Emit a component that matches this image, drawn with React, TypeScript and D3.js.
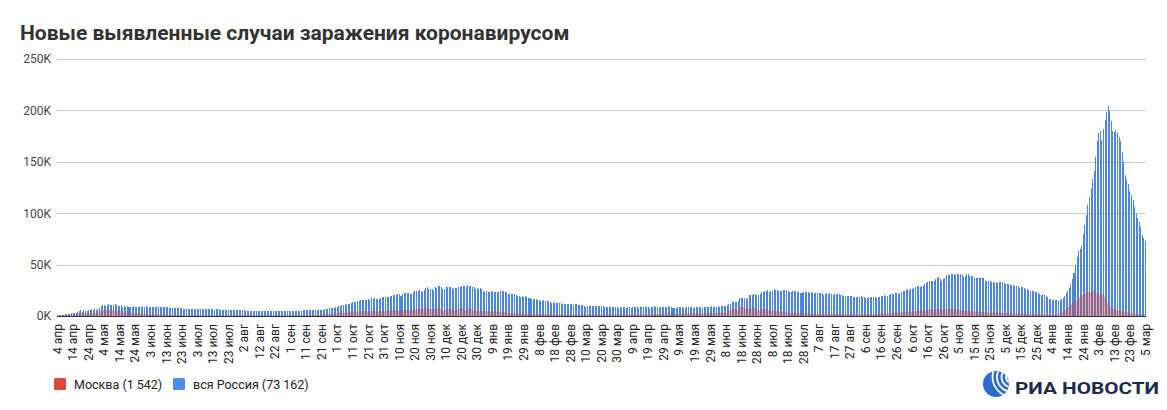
import * as d3 from "d3";
import { useEffect, useRef } from "react";

// подписи месяцев на оси X
const monthsRu = ["янв", "фев", "мар", "апр", "мая", "июн", "июл", "авг", "сен", "окт", "ноя", "дек"];

const firstDay = new Date(2020, 3, 4);
const lastDay = new Date(2022, 2, 5);

// вся Россия, тыс. новых случаев в день
const russia2020 = [
  // апр
  0.6, 0.7, 1.0, 1.2, 1.2, 1.5, 1.8, 1.7, 2.2, 2.6, 2.8, 3.4, 3.4, 4.1, 4.8, 6.1, 4.3, 5.6, 5.2, 4.8, 5.8, 6.0, 6.4, 6.2, 6.4, 5.8, 7.1,
  // май
  7.9, 9.6, 10.6, 10.6, 10.1, 10.6, 11.2, 10.7, 10.8, 11.0, 11.7, 10.9, 10.0, 10.0, 10.6, 9.2, 9.7, 8.9, 9.3, 8.8, 8.8, 8.9, 9.4, 8.6, 8.9, 8.9, 8.3, 8.4, 8.6, 9.0, 9.3,
  // июн
  9.0, 8.9, 8.5, 8.8, 8.7, 8.9, 9.0, 9.0, 8.6, 8.4, 8.8, 9.0, 8.7, 8.8, 8.2, 8.2, 7.8, 7.8, 8.0, 7.9, 7.7, 7.6, 7.4, 7.2, 7.1, 6.8, 6.9, 6.8, 6.7, 6.7,
  // июл
  6.6, 6.8, 6.7, 6.6, 6.7, 6.6, 6.4, 6.6, 6.5, 6.6, 6.6, 6.6, 6.5, 6.2, 6.4, 6.4, 6.4, 6.2, 6.1, 6.2, 5.8, 5.9, 5.8, 5.8, 5.9, 5.8, 5.6, 5.4, 5.5, 5.5, 5.5,
  // авг
  5.5, 5.4, 5.2, 5.2, 5.3, 5.2, 5.2, 5.2, 5.2, 5.1, 4.9, 5.1, 5.1, 5.1, 5.1, 5.0, 4.8, 4.7, 4.7, 4.8, 4.9, 4.9, 4.9, 4.7, 4.7, 4.7, 4.8, 4.8, 5.0, 4.9, 4.7,
  // сен
  4.7, 5.0, 5.0, 5.1, 5.2, 5.2, 5.2, 5.1, 5.4, 5.4, 5.4, 5.4, 5.5, 5.5, 5.5, 5.7, 5.8, 5.9, 6.1, 6.1, 6.2, 6.2, 6.4, 6.6, 7.2, 7.5, 7.9, 8.1, 8.2, 8.5,
  // окт
  8.9, 9.4, 9.9, 10.5, 10.9, 11.6, 11.1, 11.5, 12.1, 12.8, 13.6, 13.6, 13.9, 14.2, 14.2, 15.2, 15.1, 15.7, 15.7, 16.0, 16.3, 16.0, 17.3, 16.5, 17.3, 16.6, 16.6, 16.2, 17.7, 18.3, 18.1,
  // ноя
  18.7, 18.3, 18.6, 19.8, 19.4, 20.6, 20.5, 20.4, 21.8, 21.0, 19.9, 21.6, 22.0, 22.7, 22.6, 22.8, 21.8, 21.0, 23.6, 24.3, 24.8, 24.6, 25.2, 24.3, 23.7, 25.3, 27.5, 28.1, 26.7, 26.3,
  // дек
  26.4, 25.3, 28.1, 27.4, 28.8, 29.0, 28.1, 26.1, 26.2, 27.9, 28.6, 28.1, 28.1, 27.3, 26.7, 26.8, 27.0, 28.2, 28.6, 28.9, 29.4, 28.8, 28.2, 29.9, 29.3, 29.0, 28.3, 27.8, 26.5, 27.0, 26.5,
];

const russia2021 = [
  // янв
  27.7, 26.3, 24.2, 23.4, 24.2, 22.9, 23.5, 24.2, 23.3, 22.9, 23.3, 22.9, 23.7, 24.1, 24.7, 24.2, 23.3, 22.9, 21.7, 21.2, 21.1, 21.5, 21.3, 20.9, 19.3, 19.2, 18.2, 19.0, 18.7, 19.0, 18.4,
  // фев
  17.6, 17.6, 16.6, 16.7, 16.7, 16.6, 16.0, 15.9, 15.0, 14.9, 15.1, 15.0, 14.9, 14.2, 13.5, 12.9, 12.8, 13.2, 13.1, 13.0, 12.8, 12.7, 11.8, 11.4, 11.8, 11.5, 11.5, 11.5,
  // мар
  11.6, 10.6, 11.4, 11.8, 11.0, 11.0, 10.6, 11.0, 10.0, 9.1, 9.4, 10.1, 10.0, 9.9, 9.4, 9.3, 9.6, 9.7, 9.6, 9.3, 9.4, 8.5, 8.4, 8.8, 9.1, 9.1, 9.1, 9.1, 8.7, 8.3, 8.2,
  // апр
  8.9, 8.1, 9.0, 8.6, 8.2, 8.3, 8.3, 8.2, 9.1, 8.7, 8.8, 8.6, 8.2, 8.3, 8.3, 9.1, 8.8, 8.6, 8.7, 8.1, 8.3, 9.0, 9.3, 8.8, 8.7, 8.1, 8.3, 8.8, 9.0, 8.8,
  // май
  9.1, 9.3, 9.0, 8.5, 7.8, 7.9, 8.1, 8.3, 8.4, 8.6, 8.4, 8.0, 8.2, 8.8, 9.1, 8.9, 8.6, 7.8, 7.9, 8.4, 8.9, 8.8, 9.0, 8.2, 8.3, 8.4, 8.7, 8.8, 9.1, 9.3, 9.1,
  // июн
  9.0, 9.1, 9.3, 9.2, 9.3, 9.3, 9.3, 9.5, 10.4, 11.7, 12.0, 13.5, 14.7, 13.4, 13.7, 14.2, 17.3, 17.6, 17.9, 17.4, 16.7, 17.6, 20.2, 20.4, 20.5, 21.7, 21.7, 20.5, 20.6, 21.0,
  // июл
  23.5, 23.2, 24.4, 24.4, 25.1, 23.4, 24.0, 24.8, 25.8, 25.1, 25.0, 24.7, 23.9, 24.3, 25.1, 25.7, 25.0, 24.2, 23.8, 23.8, 24.5, 24.1, 24.1, 23.8, 23.3, 22.8, 22.4, 23.0, 23.6, 23.6, 23.3,
  // авг
  22.8, 23.6, 22.2, 22.6, 22.4, 22.8, 22.2, 22.2, 22.2, 20.8, 21.6, 21.9, 21.6, 21.9, 21.6, 20.5, 21.0, 21.1, 21.0, 21.0, 20.8, 20.5, 19.6, 19.5, 19.7, 19.5, 19.5, 19.3, 18.9, 18.3, 18.8,
  // сен
  18.9, 18.8, 19.0, 18.6, 18.3, 17.5, 17.9, 18.1, 18.2, 18.6, 18.9, 18.3, 17.8, 18.2, 18.9, 19.6, 19.9, 20.2, 19.7, 19.7, 20.3, 21.0, 21.4, 21.6, 22.4, 22.2, 21.7, 22.4, 23.5, 23.9,
  // окт
  24.5, 25.1, 25.8, 25.1, 25.8, 26.5, 27.6, 28.0, 29.4, 29.4, 28.2, 28.7, 28.7, 31.3, 32.2, 33.2, 34.3, 33.7, 33.7, 34.1, 36.3, 37.1, 37.7, 35.7, 34.3, 36.4, 36.6, 40.1, 39.8, 40.3, 41.0,
  // ноя
  40.4, 40.4, 40.2, 40.4, 40.7, 41.3, 39.4, 38.1, 39.2, 40.8, 40.8, 39.3, 38.8, 39.3, 37.0, 36.8, 37.1, 37.2, 37.4, 37.1, 37.0, 34.0, 33.6, 34.3, 33.9, 33.5, 32.9, 32.1, 32.6, 32.1,
  // дек
  32.6, 33.4, 32.9, 32.1, 31.2, 30.8, 30.8, 30.6, 30.5, 30.0, 29.6, 29.2, 28.7, 27.7, 28.0, 28.0, 27.5, 26.5, 26.3, 25.3, 24.6, 24.4, 24.1, 23.7, 23.1, 22.5, 21.5, 20.8, 20.6, 20.3, 19.5,
];

const russia2022 = [
  // янв
  18.0, 17.0, 16.2, 15.6, 15.3, 15.1, 15.2, 15.0, 15.3, 16.2, 17.8, 19.5, 22.0, 24.5, 27.0, 31.0, 35.6, 42.0, 50.0, 57.0, 63.0, 65.5, 68.0, 80.0, 89.0, 98.7, 108.0, 116.0, 125.0, 133.0, 141.0,
  // фев
  155.0, 170.0, 178.0, 180.0, 171.0, 182.0, 191.0, 198.0, 204.0, 199.0, 190.0, 180.0, 179.0, 181.0, 178.0, 174.0, 170.0, 160.0, 150.0, 137.6, 132.0, 128.0, 122.0, 118.0, 113.0, 106.0, 99.0, 95.5,
  // мар
  91.0, 87.0, 79.0, 76.0, 73.162,
];

// Москва, тыс. новых случаев в день
const moscow2020 = [
  // апр
  0.4, 0.4, 0.6, 0.7, 0.7, 0.9, 1.1, 1.0, 1.4, 1.3, 1.5, 1.8, 1.4, 2.0, 3.1, 3.6, 2.6, 3.1, 2.5, 2.0, 2.9, 3.0, 2.5, 2.9, 3.3, 2.2, 3.7,
  // май
  3.6, 5.4, 5.9, 5.8, 5.7, 5.9, 6.7, 5.8, 5.7, 5.4, 6.2, 5.4, 4.7, 4.7, 5.1, 3.5, 3.2, 3.5, 3.1, 2.9, 2.9, 3.0, 2.5, 2.3, 2.7, 2.8, 2.1, 2.1, 2.1, 2.3, 2.6,
  // июн
  2.3, 2.0, 1.8, 1.8, 1.6, 1.2, 2.0, 2.0, 1.6, 1.2, 1.6, 1.5, 1.4, 1.3, 1.0, 1.2, 1.1, 1.1, 1.0, 1.0, 0.9, 1.0, 0.9, 0.9, 0.8, 0.8, 0.7, 0.7, 0.7, 0.7,
  // июл
  0.6, 0.6, 0.7, 0.6, 0.6, 0.7, 0.7, 0.7, 0.6, 0.6, 0.6, 0.6, 0.6, 0.6, 0.6, 0.6, 0.6, 0.6, 0.6, 0.6, 0.6, 0.6, 0.6, 0.7, 0.7, 0.6, 0.7, 0.6, 0.6, 0.7, 0.7,
  // авг
  0.7, 0.7, 0.7, 0.7, 0.7, 0.7, 0.7, 0.7, 0.7, 0.7, 0.7, 0.7, 0.7, 0.7, 0.7, 0.7, 0.7, 0.7, 0.6, 0.6, 0.6, 0.7, 0.7, 0.7, 0.6, 0.6, 0.6, 0.7, 0.7, 0.7, 0.7,
  // сен
  0.7, 0.8, 0.8, 0.7, 0.7, 0.7, 0.7, 0.8, 0.8, 0.7, 0.8, 0.8, 0.8, 0.8, 0.9, 0.9, 1.0, 1.1, 1.0, 1.1, 1.1, 1.1, 1.6, 1.6, 1.8, 2.0, 2.2, 2.4, 2.4, 2.7,
  // окт
  2.9, 3.3, 4.1, 3.5, 3.2, 3.5, 3.2, 3.5, 4.1, 4.4, 4.8, 4.2, 3.9, 4.2, 4.6, 4.6, 5.0, 5.3, 4.5, 4.0, 4.5, 4.3, 5.1, 5.3, 4.8, 4.4, 4.2, 4.3, 5.2, 5.3, 5.0,
  // ноя
  5.1, 5.2, 5.2, 6.2, 5.3, 6.1, 5.8, 5.8, 5.2, 5.5, 4.8, 5.8, 5.8, 6.0, 6.0, 5.8, 5.8, 5.4, 6.4, 6.9, 6.9, 6.9, 7.2, 6.7, 6.2, 7.2, 7.9, 7.8, 7.0, 6.7,
  // дек
  6.5, 6.2, 7.9, 7.2, 8.0, 8.0, 6.7, 5.3, 5.5, 6.8, 6.8, 6.8, 6.7, 6.5, 5.6, 5.9, 6.4, 7.5, 7.8, 7.8, 7.7, 6.2, 5.6, 8.2, 7.6, 7.6, 6.4, 5.9, 5.2, 5.2, 5.2,
];

const moscow2021 = [
  // янв
  5.2, 4.8, 4.5, 4.8, 4.9, 3.8, 4.2, 4.5, 4.9, 4.8, 4.6, 3.8, 4.2, 4.2, 4.3, 4.1, 3.9, 3.6, 3.0, 2.9, 3.0, 3.1, 2.8, 2.6, 2.3, 2.3, 2.3, 2.4, 2.3, 2.1, 2.1,
  // фев
  2.0, 2.0, 2.0, 2.1, 2.0, 2.0, 1.9, 1.9, 1.8, 1.8, 1.8, 1.8, 1.7, 1.7, 1.6, 1.5, 1.5, 1.5, 1.5, 1.5, 1.4, 1.4, 1.3, 1.3, 1.3, 1.3, 1.3, 1.3,
  // мар
  1.3, 1.4, 1.4, 1.5, 1.4, 1.4, 1.3, 1.4, 1.3, 1.3, 1.4, 1.4, 1.5, 1.4, 1.3, 1.4, 1.5, 1.5, 1.5, 1.4, 1.4, 1.3, 1.3, 1.4, 1.5, 1.5, 1.5, 1.4, 1.3, 1.4, 1.4,
  // апр
  1.5, 1.3, 1.5, 1.4, 1.3, 1.3, 1.4, 1.4, 1.6, 1.5, 1.5, 1.4, 1.5, 1.6, 1.6, 1.8, 1.7, 1.6, 1.6, 1.5, 1.7, 2.0, 2.2, 2.0, 1.9, 1.8, 2.0, 2.2, 2.4, 2.3,
  // май
  2.5, 2.5, 2.5, 2.3, 2.1, 2.2, 2.3, 2.4, 2.3, 2.3, 2.2, 2.1, 2.3, 2.6, 2.9, 2.7, 2.5, 2.2, 2.3, 2.5, 2.8, 2.7, 2.8, 2.3, 2.4, 2.5, 2.7, 2.9, 3.0, 3.2, 3.0,
  // июн
  2.8, 2.9, 3.1, 3.0, 3.1, 3.1, 2.9, 3.2, 3.7, 4.7, 6.7, 6.7, 8.6, 6.3, 6.2, 5.8, 9.1, 9.1, 9.1, 8.6, 7.3, 6.8, 7.6, 7.9, 7.4, 8.5, 7.7, 6.9, 5.8, 5.9,
  // июл
  7.4, 6.7, 7.2, 6.7, 5.8, 5.2, 5.1, 5.6, 5.7, 5.7, 4.8, 4.3, 4.3, 4.2, 4.1, 4.4, 4.0, 3.2, 2.9, 2.8, 3.3, 3.0, 3.1, 2.9, 2.6, 2.4, 2.3, 2.6, 2.6, 2.6, 2.6,
  // авг
  2.5, 2.4, 2.4, 2.3, 2.3, 2.3, 2.3, 2.2, 2.1, 2.0, 2.1, 2.1, 2.1, 2.1, 2.0, 1.9, 1.9, 2.0, 2.0, 2.0, 1.9, 1.8, 1.8, 1.8, 1.8, 1.8, 1.8, 1.7, 1.7, 1.7, 1.8,
  // сен
  1.8, 1.8, 1.8, 1.7, 1.7, 1.6, 1.7, 1.8, 1.9, 2.0, 2.0, 1.9, 1.8, 1.9, 2.1, 2.3, 2.5, 2.6, 2.5, 2.5, 2.7, 2.9, 3.1, 3.2, 3.3, 3.2, 3.1, 3.3, 3.6, 3.8,
  // окт
  3.6, 3.8, 4.0, 3.9, 4.1, 4.3, 4.6, 4.7, 5.3, 5.4, 4.9, 5.0, 5.1, 5.6, 5.9, 6.2, 6.4, 6.3, 6.2, 6.3, 6.5, 6.8, 6.7, 6.4, 6.1, 6.6, 6.8, 7.0, 7.1, 7.0, 6.9,
  // ноя
  6.8, 6.6, 6.5, 6.4, 6.3, 6.2, 5.8, 5.4, 5.3, 5.3, 5.2, 5.0, 4.8, 4.6, 4.3, 4.3, 4.2, 4.1, 4.0, 3.9, 3.8, 3.5, 3.4, 3.5, 3.4, 3.3, 3.2, 3.1, 3.1, 3.0,
  // дек
  3.0, 3.1, 3.0, 2.9, 2.8, 2.8, 2.7, 2.7, 2.7, 2.6, 2.6, 2.5, 2.4, 2.4, 2.4, 2.4, 2.4, 2.3, 2.2, 2.2, 2.1, 2.1, 2.0, 2.0, 2.0, 1.9, 1.9, 1.8, 1.8, 1.8, 1.7,
];

const moscow2022 = [
  // янв
  1.7, 1.6, 1.5, 1.5, 1.5, 1.6, 1.8, 2.2, 2.8, 3.6, 4.5, 5.6, 7.0, 8.4, 9.8, 11.0, 12.3, 13.2, 14.0, 16.0, 17.5, 19.0, 20.0, 21.5, 22.0, 22.5, 23.5, 22.8, 23.0, 24.0, 24.7,
  // фев
  23.5, 21.5, 20.5, 21.5, 22.0, 21.0, 18.0, 14.5, 12.0, 10.0, 8.5, 7.5, 6.5, 6.0, 5.5, 5.2, 4.8, 4.5, 4.2, 4.0, 3.7, 3.4, 3.1, 2.9, 2.7, 2.5, 2.3, 2.1,
  // мар
  2.0, 1.9, 1.8, 1.7, 1.542,
];

const yTicks = [0, 50, 100, 150, 200, 250];

const legendItems = [
  { label: "Москва (1 542)", color: "#e0473b" },
  { label: "вся Россия (73 162)", color: "#4a8af0" },
];

const russia = [...russia2020, ...russia2021, ...russia2022];
const moscow = [...moscow2020, ...moscow2021, ...moscow2022];
const days = d3.timeDay.range(firstDay, d3.timeDay.offset(lastDay, 1));

const App = () => {
  const ref = useRef<SVGSVGElement>(null);

  useEffect(() => {
    const svg = d3.select(ref.current);
    svg.selectAll("*").remove();

    const width = 1167,
      height = 410;
    const margin = { top: 59, right: 21, bottom: 94, left: 57 };
    const n = Math.min(days.length, russia.length);

    const x = d3
      .scaleBand<number>()
      .domain(d3.range(n))
      .range([margin.left, width - margin.right])
      .paddingInner(0.35)
      .paddingOuter(0);

    const y = d3
      .scaleLinear()
      .domain([0, 250])
      .range([height - margin.bottom, margin.top]);

    // заголовок
    svg
      .append("text")
      .attr("x", 20)
      .attr("y", 40)
      .attr("font-size", 21)
      .attr("font-weight", "bold")
      .attr("fill", "#333")
      .text("Новые выявленные случаи заражения коронавирусом");

    // сетка
    svg
      .append("g")
      .selectAll("line")
      .data(yTicks.slice(1))
      .join("line")
      .attr("x1", margin.left)
      .attr("x2", width - margin.right)
      .attr("y1", (d) => Math.round(y(d)) + 0.5)
      .attr("y2", (d) => Math.round(y(d)) + 0.5)
      .attr("stroke", "#cccccc");

    // подписи оси Y
    const yAxis = svg
      .append("g")
      .attr("transform", `translate(${margin.left},0)`)
      .call(
        d3
          .axisLeft(y)
          .tickValues(yTicks)
          .tickSize(0)
          .tickPadding(6)
          .tickFormat((d) => `${d}K`)
      );
    yAxis.select(".domain").remove();
    yAxis
      .selectAll("text")
      .attr("font-family", "Roboto")
      .attr("font-size", 12)
      .attr("fill", "#444");

    // вся Россия
    svg
      .append("g")
      .selectAll("rect")
      .data(russia.slice(0, n))
      .join("rect")
      .attr("x", (_, i) => x(i)!)
      .attr("y", (d) => y(d))
      .attr("width", x.bandwidth())
      .attr("height", (d) => y(0) - y(d))
      .attr("fill", "#4a86dc")
      .attr("shape-rendering", "crispEdges");

    // Москва
    const area = d3
      .area<number>()
      .x((_, i) => x(i)! + x.bandwidth() / 2)
      .y0(y(0))
      .y1((d) => y(d));
    svg
      .append("path")
      .datum(moscow.slice(0, n))
      .attr("d", area)
      .attr("fill", "#d2443c")
      .attr("fill-opacity", 0.42);

    // базовая линия
    svg
      .append("line")
      .attr("x1", margin.left)
      .attr("x2", width - margin.right)
      .attr("y1", y(0) + 0.5)
      .attr("y2", y(0) + 0.5)
      .attr("stroke", "#333");

    // ось X: каждые 10 дней
    const tickIdx = d3.range(0, n, 10);
    const xAxis = svg
      .append("g")
      .attr("transform", `translate(0,${y(0)})`)
      .call(
        d3
          .axisBottom(x)
          .tickValues(tickIdx)
          .tickSize(0)
          .tickFormat((i) => `${days[i].getDate()} ${monthsRu[days[i].getMonth()]}`)
      );
    xAxis.select(".domain").remove();
    xAxis
      .selectAll("text")
      .attr("transform", "rotate(-90)")
      .attr("text-anchor", "end")
      .attr("x", -8)
      .attr("y", 0)
      .attr("dy", "0.35em")
      .attr("font-family", "Roboto")
      .attr("font-size", 12)
      .attr("fill", "#222");

    // легенда
    const legendX = [54, 173];
    const legend = svg
      .append("g")
      .selectAll("g")
      .data(legendItems)
      .join("g")
      .attr("transform", (_, i) => `translate(${legendX[i]},378)`);
    legend
      .append("rect")
      .attr("width", 12)
      .attr("height", 12)
      .attr("rx", 1.5)
      .attr("fill", (d) => d.color);
    legend
      .append("text")
      .attr("x", 20)
      .attr("y", 10.5)
      .attr("font-size", 12.5)
      .attr("fill", "#222")
      .text((d) => d.label);

    // логотип
    const logo = svg.append("g");
    const clip = svg
      .append("defs")
      .append("clipPath")
      .attr("id", "ria-globe");
    clip.append("circle").attr("cx", 996).attr("cy", 384).attr("r", 13);
    logo
      .append("circle")
      .attr("cx", 996)
      .attr("cy", 384)
      .attr("r", 13)
      .attr("fill", "#2b6cc9");
    const arcs = logo.append("g").attr("clip-path", "url(#ria-globe)");
    arcs
      .selectAll("circle")
      .data([6, 10.5, 15, 19.5])
      .join("circle")
      .attr("cx", 1012)
      .attr("cy", 377)
      .attr("r", (d) => d)
      .attr("fill", "none")
      .attr("stroke", "#fff")
      .attr("stroke-width", 1.8);
    logo
      .append("text")
      .attr("x", 1015)
      .attr("y", 393.5)
      .attr("font-size", 17)
      .attr("font-weight", "bold")
      .attr("fill", "#1b2b4d")
      .attr("textLength", 144)
      .attr("lengthAdjust", "spacingAndGlyphs")
      .text("РИА НОВОСТИ");
  }, []);

  return (
    <svg
      ref={ref}
      width={1167}
      height={410}
      style={{
        position: "absolute",
        left: 0,
        top: 0,
        background: "#fff",
        fontFamily: "Roboto, 'Liberation Sans', sans-serif",
      }}
    />
  );
};

export default App;
